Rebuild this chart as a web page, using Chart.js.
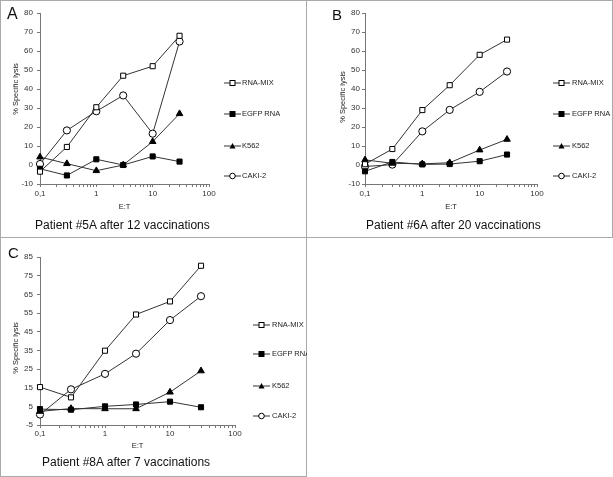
<!DOCTYPE html>
<html>
<head>
<meta charset="utf-8">
<script src="https://cdn.jsdelivr.net/npm/chart.js@4.4.0/dist/chart.umd.min.js"></script>
<style>
  body { margin: 0; background: #fff; }
  #fig { position: relative; width: 613px; height: 477px; overflow: hidden;
         font-family: "Liberation Sans", Arial, sans-serif; color: #222; }
  .panel { position: absolute; overflow: hidden; }
  .frame { position: absolute; left: 0; top: 0; right: 0; bottom: 0; box-sizing: border-box; border: 1px solid #aaa; }
  .panel canvas { position: absolute; left: 0; top: 0; }
  .letter { position: absolute; font-size: 15px; line-height: 15px; color: #111; }
  .title { position: absolute; font-size: 12px; line-height: 12px; color: #111; white-space: nowrap; }
  .ytitle { position: absolute; font-size: 7.5px; line-height: 9px; color: #222; white-space: nowrap;
            transform: translate(-50%, -50%) rotate(-90deg); }
  .leg { position: absolute; font-size: 7.5px; line-height: 10px; color: #222; white-space: nowrap; }
  .leg svg { position: absolute; left: 0; top: 0; }
  .leg span { position: absolute; top: 0; }
</style>
</head>
<body>
<div id="fig">
  <div class="panel" id="pA" style="left:0;top:0;width:307px;height:238px">
    <canvas id="chartA" width="306" height="237"></canvas>
    <div class="frame"></div>
    <div class="letter" style="left:7px;top:6px;font-size:16px">A</div>
    <div class="ytitle" style="left:15px;top:89px">% Specific lysis</div>
    <div class="title" style="left:35px;top:219px">Patient #5A after 12 vaccinations</div>
  </div>
  <div class="panel" id="pB" style="left:306px;top:0;width:307px;height:238px">
    <canvas id="chartB" width="306" height="237"></canvas>
    <div class="frame"></div>
    <div class="letter" style="left:26px;top:7px">B</div>
    <div class="ytitle" style="left:36px;top:97px">% Specific lysis</div>
    <div class="title" style="left:60px;top:219px">Patient #6A after 20 vaccinations</div>
  </div>
  <div class="panel" id="pC" style="left:0;top:237px;width:307px;height:240px">
    <canvas id="chartC" width="306" height="239"></canvas>
    <div class="frame"></div>
    <div class="letter" style="left:8px;top:8px">C</div>
    <div class="ytitle" style="left:15px;top:111px">% Specific lysis</div>
    <div class="title" style="left:42px;top:219px">Patient #8A after 7 vaccinations</div>
  </div>
</div>
<script>
// E:T ratios (x values) and series names
const etRatios = [0.1, 0.3, 1, 3, 10, 30];
const seriesNames = ['RNA-MIX', 'EGFP RNA', 'K562', 'CAKI-2'];

// Patient #5A after 12 vaccinations
const p5aRnaMix = [-3.5, 9.5, 30.4, 47, 52, 68];
const p5aEgfp = [-2, -5.5, 3, 0, 4.5, 1.8];
const p5aK562 = [4.2, 0.7, -3, 0, 12.3, 27];
const p5aCaki = [0.5, 18.2, 28.3, 36.6, 16.5, 65];

// Patient #6A after 20 vaccinations
const p6aRnaMix = [0.4, 8.4, 28.9, 42, 58, 66];
const p6aEgfp = [-3.3, 1.6, 0.3, 0.5, 2, 5.5];
const p6aK562 = [2.7, 0.9, 0.6, 1.2, 7.9, 13.5];
const p6aCaki = [-0.8, 0.2, 17.7, 29, 38.5, 49.2];

// Patient #8A after 7 vaccinations
const p8aRnaMix = [15.3, 9.8, 34.8, 54.2, 61.2, 80.3];
const p8aEgfp = [3.5, 3.2, 5, 6, 7.5, 4.5];
const p8aK562 = [2.3, 3.8, 3.7, 3.7, 12.6, 24];
const p8aCaki = [0.6, 14.1, 22.4, 33.2, 51.2, 64];

// axis ticks
const xTicks = [0.1, 0.2, 0.3, 0.4, 0.5, 0.6, 0.7, 0.8, 0.9, 1, 2, 3, 4, 5, 6, 7, 8, 9, 10, 20, 30, 40, 50, 60, 70, 80, 90, 100];
const xTickLabels = { 0.1: '0,1', 1: '1', 10: '10', 100: '100' };
const yTicksAB = [-10, 0, 10, 20, 30, 40, 50, 60, 70, 80];
const yTicksC = [-5, 5, 15, 25, 35, 45, 55, 65, 75, 85];

// marker look for each series
const markers = [
  { style: 'rect', fill: '#fff', r: 3.6 },
  { style: 'rect', fill: '#000', r: 3.6 },
  { style: 'triangle', fill: '#000', r: 3.8 },
  { style: 'circle', fill: '#fff', r: 3.6 }
];

Chart.defaults.font.family = '"Liberation Sans", Arial, sans-serif';
Chart.defaults.color = '#333';

function makeChart(id, series, yTicks, box) {
  const datasets = series.map((vals, i) => ({
    label: seriesNames[i],
    data: etRatios.map((x, j) => ({ x: x, y: vals[j] })),
    borderColor: '#333',
    borderWidth: 1,
    pointStyle: markers[i].style,
    pointRadius: markers[i].r,
    pointHoverRadius: markers[i].r,
    pointBackgroundColor: markers[i].fill,
    pointBorderColor: '#000',
    pointBorderWidth: 1,
    tension: 0,
    clip: false
  }));
  return new Chart(document.getElementById(id), {
    type: 'line',
    data: { datasets: datasets },
    options: {
      responsive: false,
      animation: false,
      layout: { padding: box.padding },
      plugins: { legend: { display: false }, tooltip: { enabled: false } },
      scales: {
        x: {
          type: 'logarithmic',
          min: 0.1,
          max: 100,
          afterBuildTicks: s => { s.ticks = xTicks.map(v => ({ value: v })); },
          afterFit: s => { s.height = 30; },
          border: { color: '#777', width: 1 },
          grid: { drawOnChartArea: false, tickLength: 3, color: '#777' },
          ticks: {
            autoSkip: false, maxRotation: 0, minRotation: 0, padding: box.xPad,
            font: { size: 8 }, color: '#333',
            callback: v => xTickLabels[v] || ''
          },
          title: { display: true, text: 'E:T', font: { size: 7.5 }, color: '#222',
                   padding: { top: 0, bottom: box.xTitlePad } }
        },
        y: {
          min: yTicks[0],
          max: yTicks[yTicks.length - 1],
          afterBuildTicks: s => { s.ticks = yTicks.map(v => ({ value: v })); },
          afterFit: s => { s.width = box.yWidth; },
          border: { color: '#777', width: 1 },
          grid: { drawOnChartArea: false, tickLength: 3, color: '#777' },
          ticks: { padding: box.yPad, font: { size: 8 }, color: '#333' }
        }
      }
    }
  });
}

makeChart('chartA', [p5aRnaMix, p5aEgfp, p5aK562, p5aCaki], yTicksAB,
  { padding: { left: 0, right: 97, top: 13, bottom: 23 }, yWidth: 40, yPad: 4, xPad: 2, xTitlePad: 2.5 });
makeChart('chartB', [p6aRnaMix, p6aEgfp, p6aK562, p6aCaki], yTicksAB,
  { padding: { left: 0, right: 75, top: 13, bottom: 23 }, yWidth: 59, yPad: 2, xPad: 2, xTitlePad: 2.5 });
makeChart('chartC', [p8aRnaMix, p8aEgfp, p8aK562, p8aCaki], yTicksC,
  { padding: { left: 0, right: 71, top: 20, bottom: 21 }, yWidth: 40, yPad: 4, xPad: 1, xTitlePad: 4.5 });

// legends: line with marker, then label
function symbolSvg(m) {
  let mark;
  if (m.style === 'rect') mark = '<rect x="6" y="2.5" width="5" height="5" fill="' + m.fill + '" stroke="#000" stroke-width="1"/>';
  else if (m.style === 'triangle') mark = '<polygon points="8.5,2 11.5,7.5 5.5,7.5" fill="#000"/>';
  else mark = '<circle cx="8.5" cy="5" r="2.8" fill="#fff" stroke="#000" stroke-width="1"/>';
  return '<svg width="18" height="10"><line x1="0" y1="5" x2="17" y2="5" stroke="#333" stroke-width="1"/>' + mark + '</svg>';
}

function makeLegend(panelId, left, textLeft, ys) {
  const panel = document.getElementById(panelId);
  seriesNames.forEach((name, i) => {
    const d = document.createElement('div');
    d.className = 'leg';
    d.style.left = left + 'px';
    d.style.top = (ys[i] - 5) + 'px';
    d.innerHTML = symbolSvg(markers[i]) + '<span style="left:' + (textLeft - left) + 'px">' + name + '</span>';
    panel.appendChild(d);
  });
}

makeLegend('pA', 224, 242, [83, 114, 146, 176]);
makeLegend('pB', 247, 266, [83, 114, 146, 176]);
makeLegend('pC', 253, 272, [88, 117, 149, 179]);
</script>
</body>
</html>
